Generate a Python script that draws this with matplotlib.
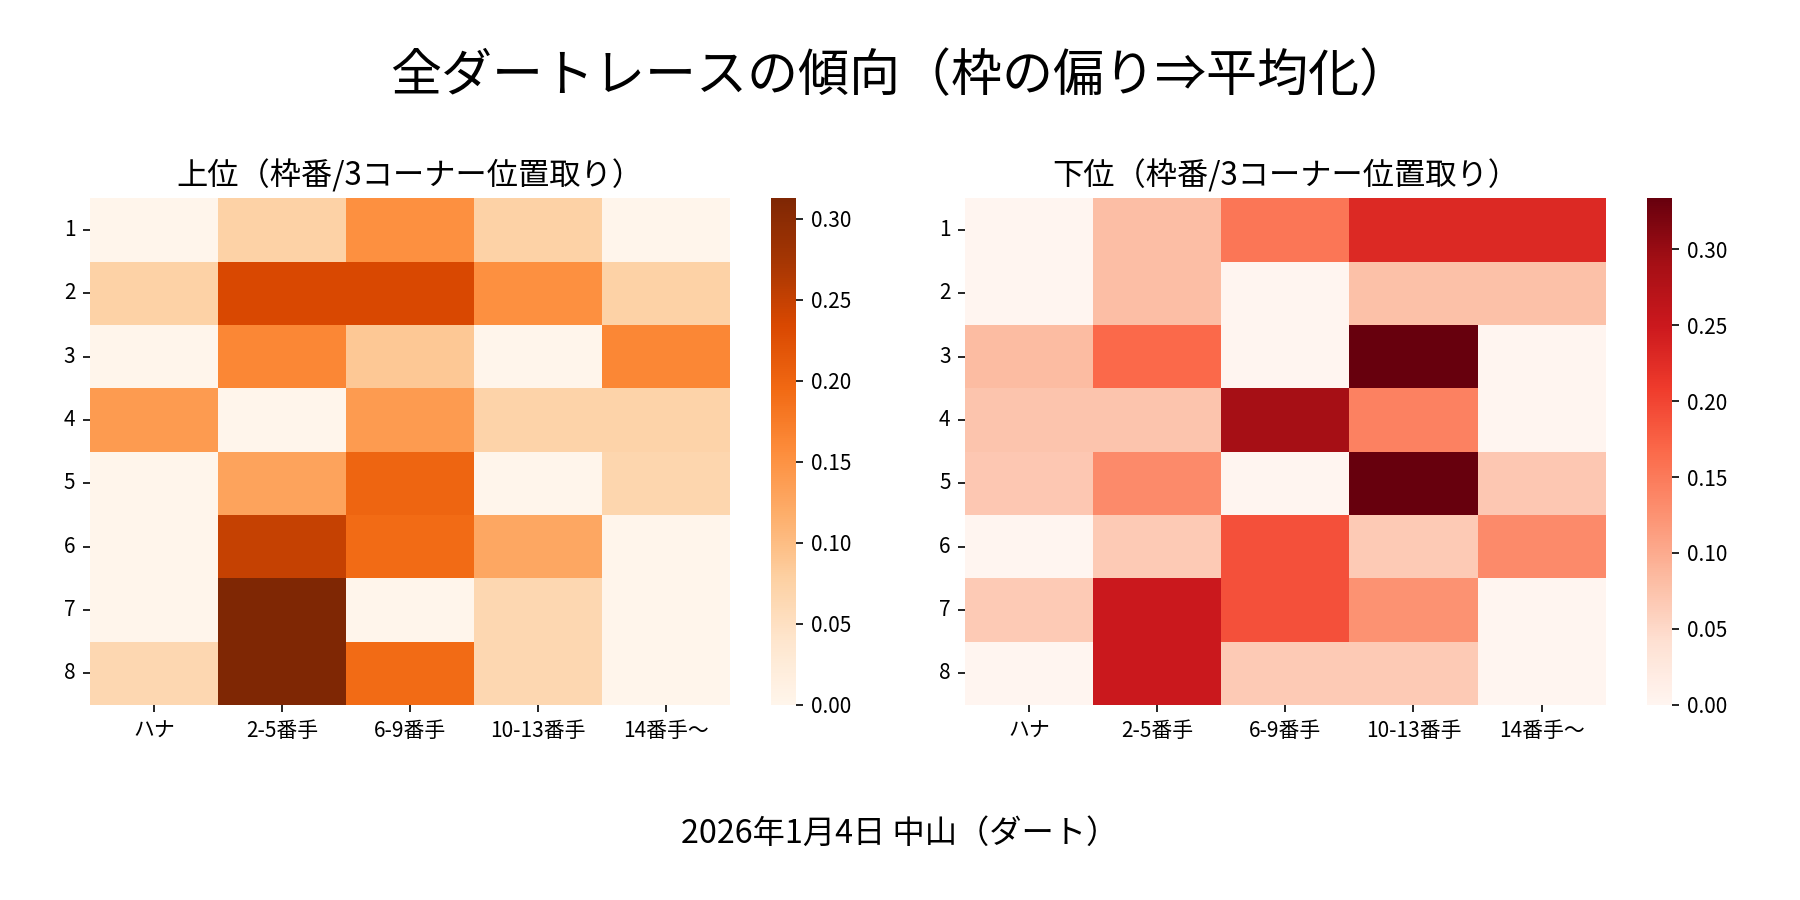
import numpy as np
import matplotlib
matplotlib.use('Agg')
import matplotlib.pyplot as plt
import seaborn as sns

plt.rcParams['font.family'] = ['Noto Sans CJK JP', 'DejaVu Sans']

# Row / column labels
waku_labels = ['1', '2', '3', '4', '5', '6', '7', '8']
corner_labels = ['ハナ', '2-5番手', '6-9番手', '10-13番手', '14番手〜']

# Upper finishers
upper_values = [
    [0.000, 0.075, 0.153, 0.075, 0.000],
    [0.075, 0.234, 0.234, 0.153, 0.075],
    [0.000, 0.163, 0.087, 0.000, 0.163],
    [0.140, 0.000, 0.140, 0.073, 0.073],
    [0.000, 0.130, 0.200, 0.000, 0.068],
    [0.000, 0.250, 0.193, 0.125, 0.000],
    [0.000, 0.3125, 0.000, 0.065, 0.000],
    [0.065, 0.3125, 0.193, 0.065, 0.000],
]

# Lower finishers
lower_values = [
    [0.000, 0.080, 0.154, 0.230, 0.230],
    [0.000, 0.080, 0.000, 0.078, 0.078],
    [0.083, 0.167, 0.000, 0.3333, 0.000],
    [0.074, 0.074, 0.290, 0.143, 0.000],
    [0.070, 0.133, 0.000, 0.3333, 0.070],
    [0.000, 0.067, 0.190, 0.067, 0.133],
    [0.067, 0.250, 0.190, 0.125, 0.000],
    [0.000, 0.250, 0.067, 0.067, 0.000],
]

fig = plt.figure(figsize=(12, 6), dpi=150)

# Axes for the two heatmaps and their colorbars
ax_up = fig.add_axes([0.050, 0.2167, 0.3558, 0.5628])
cax_up = fig.add_axes([0.4282, 0.2167, 0.0141, 0.5628])
ax_low = fig.add_axes([0.5362, 0.2167, 0.3558, 0.5628])
cax_low = fig.add_axes([0.9148, 0.2167, 0.0141, 0.5628])

sns.heatmap(np.array(upper_values), ax=ax_up, cbar_ax=cax_up, cmap='Oranges',
            xticklabels=corner_labels, yticklabels=waku_labels)
sns.heatmap(np.array(lower_values), ax=ax_low, cbar_ax=cax_low, cmap='Reds',
            xticklabels=corner_labels, yticklabels=waku_labels)

for ax, title in [(ax_up, '上位（枠番/3コーナー位置取り）'),
                  (ax_low, '下位（枠番/3コーナー位置取り）')]:
    ax.set_title(title, fontsize=15)
    ax.tick_params(axis='both', labelsize=10)
    ax.set_yticklabels(waku_labels, rotation=0)
    ax.set_xticklabels(corner_labels, rotation=0)

for cax in [cax_up, cax_low]:
    cax.tick_params(labelsize=10)

fig.suptitle('全ダートレースの傾向（枠の偏り⇒平均化）', fontsize=24.5, y=0.945)
fig.text(0.5, 0.074, '2026年1月4日 中山（ダート）', ha='center', va='center', fontsize=15.5)

fig.savefig('out.png', dpi=150)
